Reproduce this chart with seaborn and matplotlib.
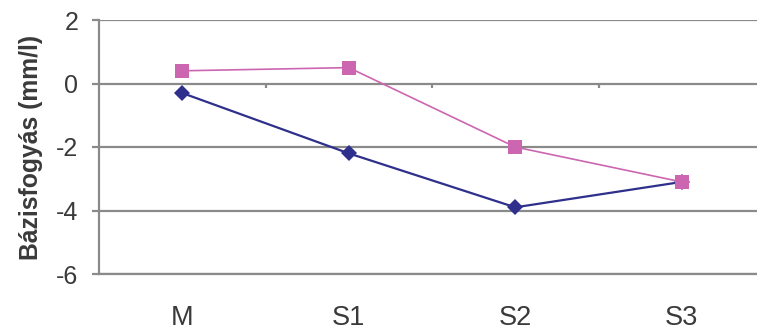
import matplotlib
matplotlib.use("Agg")
import matplotlib.pyplot as plt
import seaborn as sns
import pandas as pd

# Measurement stages and the two series of base consumption values (mm/l)
stages = ["M", "S1", "S2", "S3"]
series_a = [-0.3, -2.2, -3.9, -3.1]   # navy diamonds
series_b = [0.4, 0.5, -2.0, -3.1]     # pink squares
y_ticks = [2, 0, -2, -4, -6]

df = pd.DataFrame({
    "stage": stages * 2,
    "value": series_a + series_b,
    "series": ["A"] * len(stages) + ["B"] * len(stages),
})

sns.set_theme(style="white")
plt.rcParams["font.family"] = ["Liberation Sans", "DejaVu Sans"]

fig = plt.figure(figsize=(7.57, 3.31), dpi=100)
W, H = 757, 331
# category slots are 166.5 px wide; plot area runs slightly past the right edge
ax = fig.add_axes([99 / W, (H - 274) / H, 666 / W, 254 / H])

palette = {"A": "#2f2f8c", "B": "#cc66b0"}
sns.lineplot(data=df, x="stage", y="value", hue="series", style="series",
             markers={"A": "D", "B": "s"}, dashes=False, palette=palette,
             markersize=9, markeredgewidth=0, legend=False, ax=ax, sort=False)
for line, lw, ms in zip(ax.get_lines(), [1.6, 1.2], [8.5, 10.5]):
    line.set_linewidth(lw)
    line.set_markersize(ms)

ax.set_xlim(-0.5, 3.5)
ax.set_ylim(-6, 2)
ax.set_yticks(y_ticks)
ax.set_yticklabels([str(v) for v in y_ticks])

# horizontal gridlines at the major ticks
ax.yaxis.grid(True, color="#8a8a8a", linewidth=1.6)
ax.xaxis.grid(False)
ax.set_axisbelow(True)

for side in ["top", "right"]:
    ax.spines[side].set_visible(False)
for side in ["left", "bottom"]:
    ax.spines[side].set_color("#8a8a8a")
    ax.spines[side].set_linewidth(1.6)

ax.tick_params(axis="y", which="major", length=5, width=1.6, color="#8a8a8a",
               direction="out", left=True, labelsize=18, labelcolor="#3a3a3a", pad=10)
ax.tick_params(axis="x", which="major", length=0, labelsize=19.5,
               labelcolor="#3a3a3a", pad=22)

# category boundary tick marks hanging from the zero line
ax.vlines([0.5, 1.5, 2.5], -0.13, 0, colors="#8a8a8a", linewidth=1.6, zorder=1)

ax.set_xlabel("")
ax.set_ylabel("Bázisfogyás (mm/l)", fontsize=17.8, fontweight="bold",
              color="#3a3a3a", labelpad=9)

fig.savefig("out.png", dpi=100)
